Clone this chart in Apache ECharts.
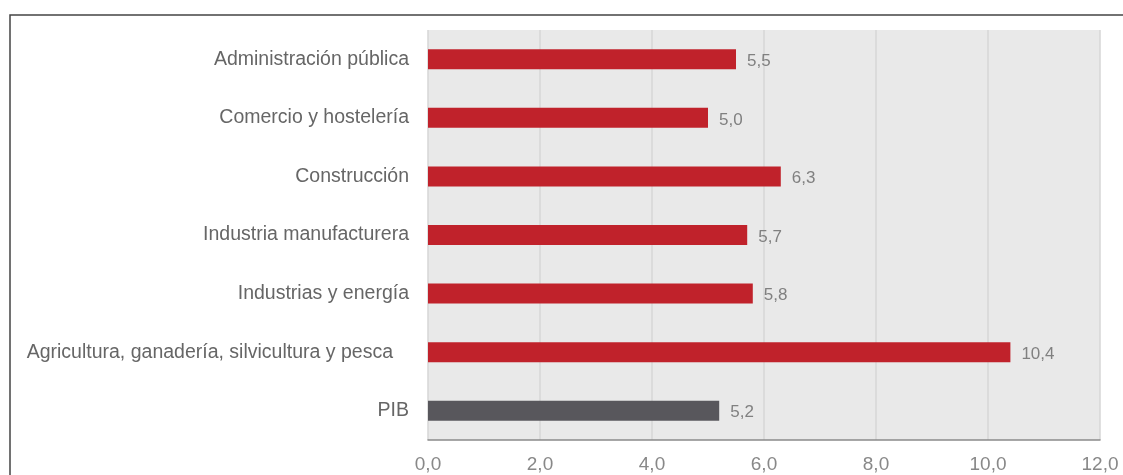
<!DOCTYPE html>
<html>
<head>
<meta charset="utf-8">
<style>
  html, body { margin: 0; padding: 0; background: #ffffff; }
  #chart { width: 1123px; height: 475px; }
</style>
<script src="https://cdn.jsdelivr.net/npm/echarts@6/dist/echarts.min.js"></script>
</head>
<body>
<div id="chart"></div>
<script>
// Sector categories, listed bottom to top as ECharts draws a category y-axis
const categories = [
  'PIB',
  'Agricultura, ganadería, silvicultura y pesca',
  'Industrias y energía',
  'Industria manufacturera',
  'Construcción',
  'Comercio y hostelería',
  'Administración pública'
];
const values = [5.2, 10.4, 5.8, 5.7, 6.3, 5.0, 5.5];
const highlightCategory = 'PIB';
const indentedCategory = 'Agricultura, ganadería, silvicultura y pesca';

const RED = '#c0222b';
const GREY = '#58575c';
const FONT = '"Liberation Sans", Arial, sans-serif';

const fmt = v => v.toFixed(1).replace('.', ',');

const chart = echarts.init(document.getElementById('chart'), null, { renderer: 'canvas' });

chart.setOption({
  animation: false,
  backgroundColor: '#ffffff',
  graphic: [{
    type: 'rect',
    shape: { x: 10, y: 15, width: 1300, height: 600 },
    style: { fill: 'none', stroke: '#444444', lineWidth: 1.5 },
    silent: true,
    z: 10
  }],
  grid: {
    left: 428, right: 23, top: 30, bottom: 35,
    show: true,
    backgroundColor: '#e9e9e9',
    borderWidth: 0
  },
  xAxis: {
    type: 'value',
    min: 0, max: 12, interval: 2,
    axisLine: { show: true, lineStyle: { color: '#8a8a8a', width: 1.5 } },
    axisTick: { show: false },
    splitLine: { show: true, lineStyle: { color: '#d6d6d6', width: 1.5 } },
    axisLabel: {
      formatter: v => fmt(v),
      color: '#888888',
      fontFamily: FONT,
      fontSize: 19,
      margin: 15
    }
  },
  yAxis: {
    type: 'category',
    data: categories,
    axisLine: { show: false },
    axisTick: { show: false },
    splitLine: { show: false },
    axisLabel: {
      color: '#666666',
      fontFamily: FONT,
      fontSize: 19.5,
      margin: 19,
      formatter: v => v === indentedCategory ? '{ind|' + v + '}' : v,
      rich: {
        ind: {
          color: '#666666',
          fontFamily: FONT,
          fontSize: 19.5,
          padding: [0, 16, 0, 0]
        }
      }
    }
  },
  series: [{
    type: 'bar',
    data: values.map((v, i) => ({
      value: v,
      itemStyle: { color: categories[i] === highlightCategory ? GREY : RED }
    })),
    barWidth: 20,
    label: {
      show: true,
      position: 'right',
      distance: 11,
      offset: [0, 2],
      formatter: p => fmt(p.value),
      color: '#808080',
      fontFamily: FONT,
      fontSize: 17
    }
  }]
});
</script>
</body>
</html>
